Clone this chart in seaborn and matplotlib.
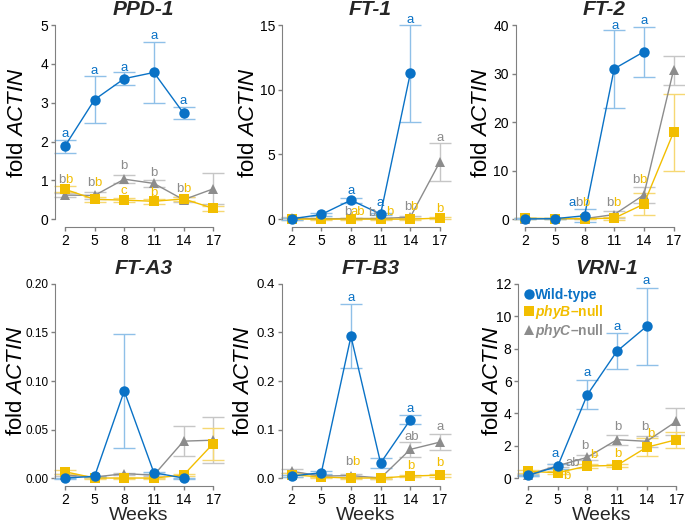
import numpy as np
import pandas as pd
import matplotlib
matplotlib.use("Agg")
import matplotlib.pyplot as plt
from matplotlib.lines import Line2D
import seaborn as sns

nan = np.nan

# data (mean and error bar half-width)
weeks = [2, 5, 8, 11, 14, 17]
genotypes = ["Wild-type", "phyB-null", "phyC-null"]

ppd1_wt = [1.88, 3.08, 3.62, 3.78, 2.73, nan]
ppd1_wt_err = [0.17, 0.61, 0.16, 0.78, 0.16, nan]
ppd1_phyb = [0.77, 0.51, 0.49, 0.46, 0.52, 0.28]
ppd1_phyb_err = [0.08, 0.06, 0.06, 0.07, 0.06, 0.07]
ppd1_phyc = [0.62, 0.61, 1.03, 0.92, 0.50, 0.78]
ppd1_phyc_err = [0.05, 0.08, 0.10, 0.08, 0.07, 0.40]

ft1_wt = [0.02, 0.36, 1.47, 0.39, 11.26, nan]
ft1_wt_err = [0.05, 0.10, 0.20, 0.10, 3.74, nan]
ft1_phyb = [0.0, 0.0, 0.0, 0.0, 0.0, 0.08]
ft1_phyb_err = [0.05, 0.05, 0.05, 0.05, 0.05, 0.05]
ft1_phyc = [0.10, 0.02, 0.05, 0.05, 0.15, 4.43]
ft1_phyc_err = [0.05, 0.02, 0.05, 0.05, 0.10, 1.45]

ft2_wt = [0.05, 0.10, 0.70, 31.0, 34.5, nan]
ft2_wt_err = [0.10, 0.10, 1.30, 8.0, 5.2, nan]
ft2_phyb = [0.20, 0.10, 0.10, 0.20, 3.1, 17.9]
ft2_phyb_err = [0.10, 0.10, 0.10, 0.30, 2.2, 7.9]
ft2_phyc = [0.10, 0.10, 0.10, 0.95, 5.0, 30.7]
ft2_phyc_err = [0.10, 0.10, 0.10, 0.70, 1.7, 3.0]

fta3_wt = [0.0, 0.0017, 0.0897, 0.0055, 0.0, nan]
fta3_wt_err = [0.0005, 0.0005, 0.0585, 0.001, 0.0005, nan]
fta3_phyb = [0.0065, 0.0, 0.0, 0.0, 0.003, 0.0355]
fta3_phyb_err = [0.002, 0.0005, 0.0005, 0.0005, 0.001, 0.0165]
fta3_phyc = [0.003, 0.001, 0.0045, 0.003, 0.038, 0.039]
fta3_phyc_err = [0.001, 0.0005, 0.001, 0.001, 0.0155, 0.0235]

ftb3_wt = [0.004, 0.011, 0.292, 0.031, 0.120, nan]
ftb3_wt_err = [0.002, 0.003, 0.066, 0.011, 0.009, nan]
ftb3_phyb = [0.007, 0.002, 0.0, 0.0, 0.004, 0.006]
ftb3_phyb_err = [0.004, 0.001, 0.001, 0.001, 0.002, 0.003]
ftb3_phyc = [0.014, 0.004, 0.005, 0.0, 0.059, 0.074]
ftb3_phyc_err = [0.004, 0.002, 0.003, 0.002, 0.016, 0.017]

vrn1_wt = [0.16, 0.72, 5.15, 7.84, 9.38, nan]
vrn1_wt_err = [0.05, 0.15, 0.90, 1.10, 2.40, nan]
vrn1_phyb = [0.41, 0.33, 0.74, 0.78, 1.90, 2.37]
vrn1_phyb_err = [0.10, 0.10, 0.15, 0.10, 0.55, 0.50]
vrn1_phyc = [0.20, 0.76, 1.28, 2.37, 2.27, 3.50]
vrn1_phyc_err = [0.05, 0.10, 0.15, 0.30, 0.35, 0.83]

# significance letters: (text, genotype index, week position, y)
ppd1_letters = [("a", 0, 2, 2.2), ("a", 0, 5, 3.82), ("a", 0, 8, 3.9), ("a", 0, 11, 4.72), ("a", 0, 14, 3.05),
                ("b", 2, 1.66, 1.0), ("b", 1, 2.4, 1.0), ("b", 2, 4.6, 0.92), ("b", 1, 5.33, 0.92),
                ("b", 2, 8, 1.37), ("c", 1, 8, 0.72), ("b", 2, 11, 1.2), ("b", 1, 11, 0.68),
                ("b", 2, 13.63, 0.77), ("b", 1, 14.37, 0.77)]
ft1_letters = [("a", 0, 8, 2.19), ("a", 0, 10.93, 1.26), ("a", 0, 14.03, 15.39),
               ("b", 2, 7.66, 0.57), ("ab", 1, 8.67, 0.57), ("b", 2, 10.1, 0.44), ("b", 1, 11.94, 0.57),
               ("b", 2, 13.73, 0.95), ("b", 1, 14.4, 0.95), ("a", 2, 17, 6.29), ("b", 1, 17, 0.77)]
ft2_letters = [("a", 0, 11.1, 39.9), ("a", 0, 14.03, 40.9),
               ("a", 0, 6.72, 3.24), ("b", 2, 7.46, 3.24), ("b", 1, 8.13, 3.24),
               ("b", 2, 10.6, 3.24), ("b", 1, 11.27, 3.24), ("b", 2, 13.22, 8.07), ("b", 1, 13.9, 8.07)]
fta3_letters = []
ftb3_letters = [("a", 0, 8, 0.372), ("a", 0, 14.03, 0.143), ("b", 2, 7.73, 0.032), ("b", 1, 8.47, 0.032),
                ("ab", 2, 14.13, 0.085), ("b", 1, 14.03, 0.025), ("a", 2, 17, 0.106), ("b", 1, 17, 0.030)]
vrn1_letters = [("a", 0, 4.73, 1.48), ("a", 0, 8, 6.5), ("a", 0, 10.97, 9.32), ("a", 0, 13.93, 12.16),
                ("ab", 2, 6.57, 0.93), ("b", 2, 7.73, 1.96), ("b", 2, 11.07, 3.13), ("b", 2, 13.83, 3.13),
                ("b", 1, 5.93, 0.10), ("b", 1, 8.67, 1.44), ("b", 1, 11.07, 1.48), ("b", 1, 14.47, 2.72)]

panels = [
    ("PPD-1", [ppd1_wt, ppd1_phyb, ppd1_phyc], [ppd1_wt_err, ppd1_phyb_err, ppd1_phyc_err], [0, 1, 2, 3, 4, 5], ppd1_letters),
    ("FT-1", [ft1_wt, ft1_phyb, ft1_phyc], [ft1_wt_err, ft1_phyb_err, ft1_phyc_err], [0, 5, 10, 15], ft1_letters),
    ("FT-2", [ft2_wt, ft2_phyb, ft2_phyc], [ft2_wt_err, ft2_phyb_err, ft2_phyc_err], [0, 10, 20, 30, 40], ft2_letters),
    ("FT-A3", [fta3_wt, fta3_phyb, fta3_phyc], [fta3_wt_err, fta3_phyb_err, fta3_phyc_err], [0, 0.05, 0.10, 0.15, 0.20], fta3_letters),
    ("FT-B3", [ftb3_wt, ftb3_phyb, ftb3_phyc], [ftb3_wt_err, ftb3_phyb_err, ftb3_phyc_err], [0, 0.1, 0.2, 0.3, 0.4], ftb3_letters),
    ("VRN-1", [vrn1_wt, vrn1_phyb, vrn1_phyc], [vrn1_wt_err, vrn1_phyb_err, vrn1_phyc_err], [0, 2, 4, 6, 8, 10, 12], vrn1_letters),
]

colors = ["#0a72c6", "#f2be00", "#8c8c8c"]
err_colors = ["#8fc0e8", "#f6d873", "#c6c6c6"]
markers = {"Wild-type": "o", "phyB-null": "s", "phyC-null": "^"}
draw_order = ["phyC-null", "phyB-null", "Wild-type"]

sns.set_style("ticks")
plt.rcParams["font.family"] = ["Liberation Sans", "DejaVu Sans"]
plt.rcParams["mathtext.fontset"] = "custom"
plt.rcParams["mathtext.rm"] = "Liberation Sans"
plt.rcParams["mathtext.it"] = "Liberation Sans:italic"
plt.rcParams["mathtext.bf"] = "Liberation Sans:italic:bold"
plt.rcParams["axes.edgecolor"] = "#808080"
plt.rcParams["xtick.color"] = "#808080"
plt.rcParams["ytick.color"] = "#808080"
plt.rcParams["xtick.labelcolor"] = "black"
plt.rcParams["ytick.labelcolor"] = "black"

fig = plt.figure(figsize=(6.85, 5.23), dpi=100)
lefts = [0.089, 0.420, 0.761, 0.089, 0.420, 0.765]
bottoms = [0.581, 0.581, 0.581, 0.086, 0.086, 0.086]
ylabel_x = [-0.277, -0.248, -0.257, -0.287, -0.282, -0.205]
ytick_size = [10, 10, 10, 8.5, 9.5, 10]

for k, (title, means, errs, yticks, letters) in enumerate(panels):
    ax = fig.add_axes([lefts[k], bottoms[k], 0.228, 0.371])
    rows = []
    for g, m in zip(genotypes, means):
        for w, v in zip(weeks, m):
            rows.append({"week": w, "value": v, "geno": g})
    df = pd.DataFrame(rows).dropna()

    for g in draw_order:
        i = genotypes.index(g)
        ax.errorbar(weeks, means[i], yerr=errs[i], fmt="none", ecolor=err_colors[i],
                    elinewidth=1, capsize=8, capthick=1, clip_on=False, zorder=1)
    sns.lineplot(data=df, x="week", y="value", hue="geno", style="geno",
                 hue_order=draw_order, style_order=draw_order,
                 palette=dict(zip(genotypes, colors)), markers=markers, dashes=False,
                 markersize=7.5, markeredgewidth=0, linewidth=1, legend=False,
                 clip_on=False, ax=ax)

    for txt, gi, x, y in letters:
        ax.text(x, y, txt, color=colors[gi], ha="center", va="center", fontsize=9.5)

    ax.set_xlim(1.6, 17.4)
    ax.set_xticks(weeks)
    ax.set_ylim(0, yticks[-1])
    ax.set_yticks(yticks)
    ax.tick_params(length=3, width=1, pad=2)
    ax.tick_params(axis="x", labelsize=10)
    ax.tick_params(axis="y", labelsize=ytick_size[k])
    ax.set_title(title, fontweight="bold", fontstyle="italic", fontsize=15, pad=7, x=0.53)
    ax.set_ylabel("fold $ACTIN$", fontsize=16, color="black", va="center")
    ax.yaxis.set_label_coords(ylabel_x[k], 0.5)
    ax.set_xlabel("Weeks" if k >= 3 else "", fontsize=14, labelpad=0)
    sns.despine(ax=ax, offset={"left": 4, "bottom": 6}, trim=True)

    if title == "VRN-1":
        labels = ["Wild-type", r"$\mathbf{phyB}$–null", r"$\mathbf{phyC}$–null"]
        handles = [Line2D([], [], color=colors[i], marker=markers[g], linestyle="none",
                          markersize=7.5, markeredgewidth=0) for i, g in enumerate(genotypes)]
        leg = ax.legend(handles, labels, loc="upper left", bbox_to_anchor=(-0.03, 1.0),
                        frameon=False, handlelength=0.8, handletextpad=0.05, labelspacing=0.05,
                        borderaxespad=0.1, borderpad=0.2, prop={"weight": "bold", "size": 10})
        for t, c in zip(leg.get_texts(), colors):
            t.set_color(c)

fig.savefig("out.png", dpi=100)
